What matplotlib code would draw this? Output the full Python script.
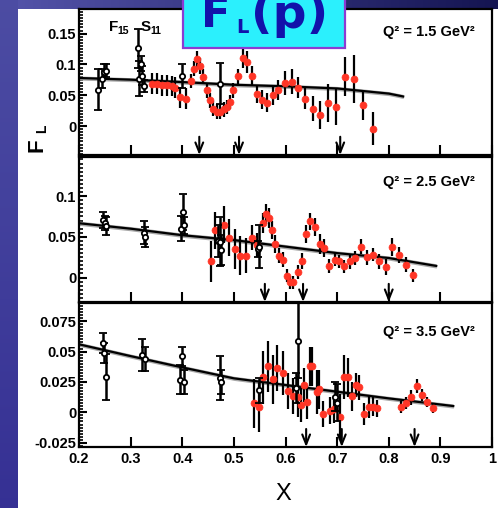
import numpy as np
import matplotlib
matplotlib.use('Agg')
import matplotlib.pyplot as plt
from matplotlib.patches import Rectangle
from matplotlib.ticker import MultipleLocator, FixedLocator

W, H = 498, 508
SANS = ['Liberation Sans', 'DejaVu Sans']
plt.rcParams['font.family'] = SANS

# ---------------- data ----------------
q2_labels = ['Q² = 1.5 GeV²', 'Q² = 2.5 GeV²', 'Q² = 3.5 GeV²']
y_limits = [(-0.047, 0.19), (-0.030, 0.148), (-0.0285, 0.090)]
y_ticks = [[0, 0.05, 0.1, 0.15], [0, 0.05, 0.1], [-0.025, 0, 0.025, 0.05, 0.075]]
y_tick_labels = [['0', '0.05', '0.1', '0.15'], ['0', '0.05', '0.1'],
                 ['-0.025', '0', '0.025', '0.05', '0.075']]
y_minor_step = [0.005, 0.005, 0.0025]
x_ticks = [0.2, 0.3, 0.4, 0.5, 0.6, 0.7, 0.8, 0.9, 1.0]
x_tick_labels = ['0.2', '0.3', '0.4', '0.5', '0.6', '0.7', '0.8', '0.9', '1']

# resonance positions (Delta, S11, F15) at each Q^2
resonance_x = [[0.433, 0.510, 0.706], [0.560, 0.634, 0.800], [0.640, 0.709, 0.850]]

# global fit curves
fit_x = [[0.2, 0.3, 0.4, 0.5, 0.6, 0.7, 0.8, 0.828],
         [0.2, 0.3, 0.4, 0.5, 0.6, 0.7, 0.8, 0.892],
         [0.2, 0.3, 0.4, 0.5, 0.6, 0.7, 0.8, 0.925]]
fit_y = [[0.078, 0.0753, 0.0714, 0.067, 0.0645, 0.061, 0.0527, 0.048],
         [0.0667, 0.060, 0.052, 0.046, 0.038, 0.030, 0.024, 0.0143],
         [0.056, 0.0463, 0.037, 0.028, 0.0225, 0.017, 0.0115, 0.0052]]

# Jefferson Lab resonance-region points (red)
red_x1 = [0.341, 0.351, 0.360, 0.370, 0.380, 0.386, 0.396, 0.407, 0.416, 0.422,
          0.428, 0.434, 0.440, 0.447, 0.454, 0.460, 0.467, 0.473, 0.480, 0.486,
          0.493, 0.499, 0.508, 0.517, 0.526, 0.535, 0.544, 0.555, 0.564, 0.575,
          0.586, 0.599, 0.612, 0.625, 0.638, 0.653, 0.667, 0.682, 0.698, 0.715,
          0.733, 0.750, 0.770]
red_y1 = [0.069, 0.069, 0.066, 0.066, 0.065, 0.062, 0.047, 0.044, 0.073, 0.093,
          0.109, 0.098, 0.080, 0.058, 0.042, 0.028, 0.023, 0.023, 0.027, 0.031,
          0.039, 0.058, 0.081, 0.111, 0.104, 0.082, 0.052, 0.043, 0.038, 0.050,
          0.058, 0.070, 0.072, 0.062, 0.044, 0.028, 0.018, 0.037, 0.031, 0.080,
          0.076, 0.034, -0.004]
red_e1 = [0.017, 0.017, 0.017, 0.017, 0.017, 0.017, 0.017, 0.017, 0.012, 0.012,
          0.013, 0.013, 0.012, 0.012, 0.012, 0.012, 0.012, 0.012, 0.012, 0.012,
          0.012, 0.012, 0.012, 0.016, 0.018, 0.016, 0.015, 0.015, 0.015, 0.016,
          0.016, 0.020, 0.020, 0.017, 0.017, 0.020, 0.023, 0.031, 0.030, 0.032,
          0.039, 0.024, 0.026]

red_x2 = [0.455, 0.464, 0.481, 0.491, 0.502, 0.512, 0.523, 0.535, 0.545, 0.556,
          0.562, 0.568, 0.573, 0.580, 0.588, 0.595, 0.602, 0.609, 0.615, 0.624,
          0.632, 0.640, 0.648, 0.657, 0.666, 0.675, 0.685, 0.695, 0.704, 0.714,
          0.724, 0.735, 0.747, 0.757, 0.769, 0.781, 0.794, 0.806, 0.820, 0.833,
          0.847]
red_y2 = [0.020, 0.058, 0.065, 0.049, 0.035, 0.027, 0.027, 0.049, 0.040, 0.067,
          0.078, 0.073, 0.058, 0.041, 0.027, 0.022, 0.002, -0.006, -0.006, 0.007,
          0.020, 0.054, 0.069, 0.062, 0.041, 0.036, 0.014, 0.022, 0.020, 0.014,
          0.020, 0.024, 0.038, 0.025, 0.028, 0.020, 0.013, 0.037, 0.028, 0.016,
          0.003]
red_e2 = [0.025, 0.023, 0.023, 0.023, 0.025, 0.024, 0.022, 0.015, 0.015, 0.012,
          0.012, 0.012, 0.011, 0.011, 0.009, 0.009, 0.008, 0.008, 0.008, 0.009,
          0.010, 0.011, 0.010, 0.011, 0.012, 0.011, 0.009, 0.008, 0.008, 0.008,
          0.009, 0.008, 0.009, 0.009, 0.008, 0.009, 0.010, 0.011, 0.010, 0.009,
          0.008]

red_x3 = [0.539, 0.548, 0.556, 0.566, 0.575, 0.584, 0.595, 0.604, 0.615, 0.625,
          0.630, 0.636, 0.641, 0.648, 0.652, 0.661, 0.665, 0.672, 0.686, 0.693,
          0.706, 0.714, 0.722, 0.728, 0.737, 0.743, 0.752, 0.761, 0.769, 0.777,
          0.823, 0.833, 0.843, 0.854, 0.864, 0.875, 0.885]
red_y3 = [0.0074, 0.0041, 0.0288, 0.0381, 0.0271, 0.0367, 0.0326, 0.0175, 0.0134,
          0.0129, 0.0060, 0.0225, 0.0087, 0.0381, 0.0381, 0.0170, 0.0189, -0.0014,
          0.0013, 0.0024, -0.0036, 0.0288, 0.0288, 0.0134, 0.0225, 0.0205, -0.0014,
          0.0046, 0.0046, 0.0033, 0.0041, 0.0079, 0.0123, 0.0216, 0.0142, 0.0087,
          0.0033]
red_e3 = [0.020, 0.020, 0.022, 0.021, 0.020, 0.019, 0.018, 0.015, 0.015, 0.017,
          0.014, 0.014, 0.014, 0.016, 0.016, 0.018, 0.016, 0.011, 0.011, 0.011,
          0.019, 0.018, 0.016, 0.012, 0.010, 0.010, 0.009, 0.009, 0.008, 0.007,
          0.005, 0.005, 0.006, 0.006, 0.005, 0.004, 0.004]

# Rosenbluth separated points (black, open)
blk_x1 = [0.237, 0.244, 0.248, 0.252, 0.315, 0.316, 0.320, 0.322, 0.326, 0.399, 0.473]
blk_y1 = [0.059, 0.077, 0.088, 0.090, 0.126, 0.077, 0.101, 0.082, 0.065, 0.081, 0.069]
blk_e1 = [0.033, 0.015, 0.012, 0.010, 0.031, 0.029, 0.012, 0.015, 0.010, 0.019, 0.034]

blk_x2 = [0.247, 0.250, 0.252, 0.325, 0.328, 0.398, 0.401, 0.403, 0.470, 0.473, 0.476, 0.546, 0.548]
blk_y2 = [0.071, 0.067, 0.063, 0.055, 0.050, 0.060, 0.081, 0.064, 0.045, 0.044, 0.034, 0.035, 0.038]
blk_e2 = [0.010, 0.008, 0.011, 0.014, 0.012, 0.015, 0.022, 0.010, 0.020, 0.030, 0.018, 0.010, 0.026]

blk_x3 = [0.247, 0.249, 0.252, 0.323, 0.327, 0.396, 0.400, 0.403, 0.473, 0.476,
          0.548, 0.620, 0.624, 0.696, 0.700]
blk_y3 = [0.057, 0.049, 0.029, 0.047, 0.044, 0.027, 0.046, 0.025, 0.028, 0.025,
          0.018, 0.020, 0.059, 0.013, 0.008]
blk_e3 = [0.008, 0.008, 0.019, 0.013, 0.010, 0.012, 0.008, 0.010, 0.018, 0.010,
          0.010, 0.012, 0.031, 0.012, 0.015]

red_sets = [(red_x1, red_y1, red_e1), (red_x2, red_y2, red_e2), (red_x3, red_y3, red_e3)]
blk_sets = [(blk_x1, blk_y1, blk_e1), (blk_x2, blk_y2, blk_e2), (blk_x3, blk_y3, blk_e3)]

# ---------------- styling ----------------
RED = '#ff3526'
band_half = [0.0033, 0.0026, 0.0017]
panel_px = [(79, 9, 492, 155), (79, 157, 492, 302), (79, 303, 492, 447)]
q2_pos = [0.842, 0.830, 0.800]


def fig_rect(x0, y0, x1, y1):
    return [x0 / W, 1 - y1 / H, (x1 - x0) / W, (y1 - y0) / H]


fig = plt.figure(figsize=(W / 100, H / 100), dpi=100)

# slide background
bg = fig.add_axes([0, 0, 1, 1], zorder=-10)
bg.set_axis_off()
t = np.linspace(0, 1, W)[None, :, None]
c_left = np.array([0.33, 0.33, 0.67])
c_right = np.array([0.08, 0.08, 0.32])
img = np.repeat(c_left * (1 - t) + c_right * t, H, axis=0)
s = np.linspace(0, 1, H)[:, None, None]
strip = np.array([0.30, 0.30, 0.64]) * (1 - s) + np.array([0.21, 0.19, 0.58]) * s
img[:, :18, :] = np.repeat(strip, 18, axis=1)
bg.imshow(img, extent=(0, W, H, 0), aspect='auto')
bg.add_patch(Rectangle((18, 9), W - 18, H - 9, facecolor='white', edgecolor='none'))
bg.set_xlim(0, W)
bg.set_ylim(H, 0)

axes = []
for i in range(3):
    ax = fig.add_axes(fig_rect(*panel_px[i]))
    ax.set_facecolor('none')
    ax.set_xlim(0.2, 1.0)
    ax.set_ylim(*y_limits[i])
    for side in ['top', 'right', 'bottom', 'left']:
        ax.spines[side].set_linewidth(1.6)
    ax.xaxis.set_major_locator(FixedLocator(x_ticks))
    ax.yaxis.set_major_locator(FixedLocator(y_ticks[i]))
    ax.yaxis.set_minor_locator(MultipleLocator(y_minor_step[i]))
    ax.set_yticklabels(y_tick_labels[i])
    ax.tick_params(axis='x', which='major', direction='in', length=7.5, width=1.5,
                   top=False, pad=3.5, labelsize=10.5)
    ax.tick_params(axis='y', which='major', direction='in', length=6, width=1.5,
                   right=False, pad=2, labelsize=10.5)
    ax.tick_params(axis='y', which='minor', direction='in', length=3, width=1.2, right=False)
    for lab in ax.get_yticklabels():
        lab.set_fontweight('bold')
    if i < 2:
        ax.set_xticklabels([])
    else:
        ax.set_xticklabels(x_tick_labels)
        for lab in ax.get_xticklabels():
            lab.set_fontweight('bold')

    fx = np.array(fit_x[i])
    fy = np.array(fit_y[i])
    ax.fill_between(fx, fy - band_half[i], fy + band_half[i], color='#a8a8a8',
                    lw=0, zorder=2)
    ax.plot(fx, fy, color='black', lw=1.6, zorder=2.5)

    rx, ry, re = red_sets[i]
    ax.errorbar(rx, ry, yerr=re, fmt='o', ms=5, mfc=RED, mec=RED, mew=0.5,
                ecolor='black', elinewidth=1.6, capsize=0, zorder=3)
    bx, by, be = blk_sets[i]
    ax.errorbar(bx, by, yerr=be, fmt='o', ms=3.8, mfc='white', mec='black', mew=1.3,
                ecolor='black', elinewidth=1.8, capsize=3, capthick=1.8, zorder=4)

    for xr in resonance_x[i]:
        ax.annotate('', xy=(xr, 0.0), xytext=(xr, 0.125),
                    xycoords=('data', 'axes fraction'),
                    textcoords=('data', 'axes fraction'),
                    arrowprops=dict(arrowstyle='->,head_length=0.7,head_width=0.28',
                                    lw=1.5, color='black', shrinkA=0, shrinkB=0))

    ax.text(0.959, q2_pos[i], q2_labels[i], transform=ax.transAxes, ha='right',
            va='center', fontsize=10.5, fontweight='bold')
    axes.append(ax)

# overlay for title box and free labels
ov = fig.add_axes([0, 0, 1, 1], zorder=10)
ov.set_axis_off()
ov.patch.set_alpha(0)
ov.set_xlim(0, W)
ov.set_ylim(H, 0)

ov.add_patch(Rectangle((183, -3), 162, 51, facecolor='#2bf0fd', edgecolor='#8c3cd2', lw=1.6))
TITLE_C = '#1212aa'
ov.text(201, 27, 'F', fontsize=31, fontweight='bold', color=TITLE_C,
        family='DejaVu Sans', ha='left', va='baseline')
ov.text(236, 33, 'L', fontsize=14, fontweight='bold', color=TITLE_C,
        family='DejaVu Sans', ha='left', va='baseline')
ov.text(251, 28, '(p)', fontsize=34, fontweight='bold', color=TITLE_C,
        family='DejaVu Sans', ha='left', va='baseline')

# resonance names
ov.text(109, 31, 'F', fontsize=11, fontweight='bold', ha='left', va='baseline')
ov.text(117.5, 34, '15', fontsize=7.5, fontweight='bold', ha='left', va='baseline')
ov.text(141, 31, 'S', fontsize=11, fontweight='bold', ha='left', va='baseline')
ov.text(150.5, 34, '11', fontsize=7.5, fontweight='bold', ha='left', va='baseline')

# axis titles
ov.text(37, 145, 'F', fontsize=16, fontweight='bold', rotation=90, ha='center', va='center')
ov.text(42, 129, 'L', fontsize=10, fontweight='bold', rotation=90, ha='center', va='center')
ov.text(283, 494, 'X', fontsize=17, ha='center', va='center')

fig.savefig('out.png', dpi=100)
